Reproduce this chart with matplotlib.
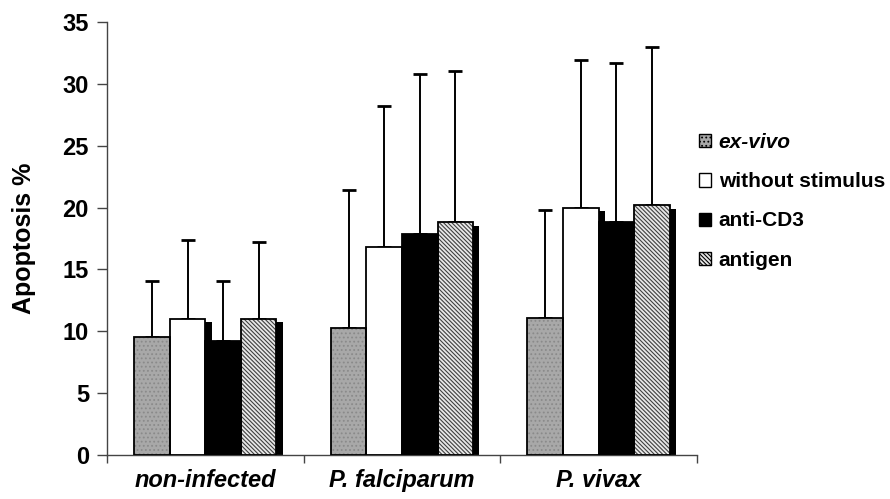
import numpy as np
import matplotlib
matplotlib.use("Agg")
import matplotlib.pyplot as plt
import matplotlib.patheffects as pe
from matplotlib.patches import Patch

groups = ["non-infected", "P. falciparum", "P. vivax"]
series = ["ex-vivo", "without stimulus", "anti-CD3", "antigen"]

# mean apoptosis % per series (one value per group)
ex_vivo = [9.5, 10.3, 11.1]
without_stim = [11.0, 16.8, 20.0]
anti_cd3 = [9.2, 17.9, 18.8]
antigen = [11.0, 18.8, 20.2]

# top of the (upper-only) error bars
ex_vivo_top = [14.1, 21.4, 19.8]
without_stim_top = [17.4, 28.2, 31.9]
anti_cd3_top = [14.1, 30.8, 31.7]
antigen_top = [17.2, 31.0, 33.0]

means = [ex_vivo, without_stim, anti_cd3, antigen]
tops = [ex_vivo_top, without_stim_top, anti_cd3_top, antigen_top]

plt.rcParams['font.family'] = ['Liberation Sans', 'DejaVu Sans']
plt.rcParams['font.weight'] = 'bold'
plt.rcParams['hatch.linewidth'] = 0.8

fig = plt.figure(figsize=(8.9, 4.99), dpi=100)
ax = fig.add_axes([0.1202, 0.0882, 0.6629, 0.8677])

x = np.arange(len(groups))
w = 0.181
shadow = [pe.SimplePatchShadow(offset=(4.5, -2.5), shadow_rgbFace='black', alpha=1.0, hatch=None),
          pe.Normal()]

styles = [
    dict(face='#a8a8a8', hatch='....', hcol='#8a8a8a'),
    dict(face='white', hatch=None, hcol='black'),
    dict(face='black', hatch=None, hcol='black'),
    dict(face='#e8e8e8', hatch='\\' * 8, hcol='#404040'),
]

for i, (m, t, st) in enumerate(zip(means, tops, styles)):
    pos = x + (i - 1.5) * w
    m = np.array(m)
    err = np.array(t) - m
    ax.bar(pos, m, width=w, color=st['face'], hatch=st['hatch'], edgecolor=st['hcol'],
           linewidth=0, zorder=2, path_effects=shadow)
    ax.bar(pos, m, width=w, fill=False, edgecolor='black', linewidth=1.3, zorder=3)
    ax.errorbar(pos, m, yerr=[np.zeros_like(err), err], fmt='none', ecolor='black',
                elinewidth=1.4, capsize=5, capthick=2, zorder=1)

ax.set_xlim(-0.5, 2.5)
ax.set_ylim(0, 35)
ax.set_yticks(np.arange(0, 36, 5))
ax.tick_params(axis='y', labelsize=17, length=7, width=1, color='#444444', pad=6)

ax.set_xticks([-0.5, 0.5, 1.5, 2.5])
ax.set_xticklabels([])
ax.set_xticks(x, minor=True)
ax.set_xticklabels(groups, minor=True, fontsize=17, style='italic', fontweight='bold')
ax.tick_params(axis='x', which='major', length=6, width=1, color='#444444')
ax.tick_params(axis='x', which='minor', length=0, pad=10)

for s in ['top', 'right']:
    ax.spines[s].set_visible(False)
for s in ['left', 'bottom']:
    ax.spines[s].set_color('#444444')
    ax.spines[s].set_linewidth(1.0)

ax.set_ylabel("Apoptosis %", fontsize=18, fontweight='bold', labelpad=19)

handles = [Patch(facecolor=st['face'], edgecolor='black', hatch=st['hatch'], linewidth=1) for st in styles]
leg = fig.legend(handles, series, loc='upper left', bbox_to_anchor=(0.776, 0.75),
                 frameon=False, fontsize=15, handlelength=0.6, handleheight=0.6,
                 handletextpad=0.35, labelspacing=0.97, borderaxespad=0)
for txt in leg.get_texts():
    txt.set_fontweight('bold')
leg.get_texts()[0].set_style('italic')

fig.savefig("out.png", dpi=100)
